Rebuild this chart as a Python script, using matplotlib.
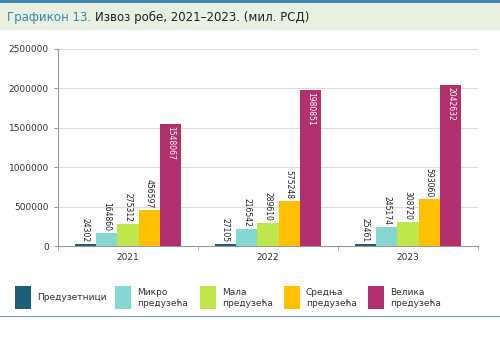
import numpy as np
import matplotlib
matplotlib.use("Agg")
import matplotlib.pyplot as plt
from matplotlib.patches import Rectangle

years = ["2021", "2022", "2023"]
series = ["Предузетници", "Микро\nпредузећа", "Мала\nпредузећа", "Средња\nпредузећа", "Велика\nпредузећа"]
colors = ["#1d5f7b", "#86d7d4", "#bfe64b", "#ffc000", "#b3306f"]
preduzetnici = [24302, 27105, 25461]
mikro = [164860, 216542, 245174]
mala = [275312, 289610, 308720]
srednja = [456597, 575248, 593060]
velika = [1548067, 1980851, 2042632]
values = [preduzetnici, mikro, mala, srednja, velika]

W, H = 500, 342
fig = plt.figure(figsize=(W / 100, H / 100), dpi=100)

# header band
fig.patches.append(Rectangle((0, 1 - 30 / H), 1, 27 / H, transform=fig.transFigure,
                             facecolor="#e9f0e1", edgecolor="none", zorder=0))
fig.patches.append(Rectangle((0, 1 - 2.5 / H), 1, 2.5 / H, transform=fig.transFigure,
                             facecolor="#3d86b0", edgecolor="none", zorder=0))
fig.patches.append(Rectangle((0, 1 - 317 / H), 1, 1.2 / H, transform=fig.transFigure,
                             facecolor="#6c9cc6", edgecolor="none", zorder=0))
t1 = fig.text(7 / W, 1 - 17 / H, "Графикон 13.", color="#3a86ad", fontsize=8.5,
              va="center", ha="left")
fig.canvas.draw()
bb = t1.get_window_extent()
fig.text(bb.x1 / W + 0.008, 1 - 17 / H, "Извоз робе, 2021–2023. (мил. РСД)",
         color="#222222", fontsize=8.5, va="center", ha="left")

ax = fig.add_axes([58 / W, 1 - 246 / H, 420 / W, 197 / H])
x = np.arange(len(years))
bw = 0.152
for i, (vals, c) in enumerate(zip(values, colors)):
    pos = x + (i - 2) * bw
    ax.bar(pos, vals, width=bw, color=c, zorder=3)
    for p, v in zip(pos, vals):
        if i == 4:
            ax.text(p, v - 25000, f"{v}", rotation=270, ha="center", va="top",
                    fontsize=5.5, color="white", zorder=4)
        else:
            ax.text(p, v + 25000, f"{v}", rotation=270, ha="center", va="bottom",
                    fontsize=5.5, color="#222222", zorder=4)

ax.set_xlim(-0.5, 2.5)
ax.set_ylim(0, 2500000)
ax.set_yticks(np.arange(0, 2500001, 500000))
ax.set_yticklabels([f"{int(v)}" for v in np.arange(0, 2500001, 500000)])
ax.set_xticks(x)
ax.set_xticklabels(years)
ax.set_xticks([-0.5, 0.5, 1.5, 2.5], minor=True)
ax.tick_params(axis="x", which="major", length=0, labelsize=6.5, pad=5, colors="#333333")
ax.tick_params(axis="x", which="minor", length=3, color="#999999")
ax.tick_params(axis="y", length=3, color="#999999", labelsize=6.5, colors="#333333")
ax.tick_params(axis="y", colors="#999999", labelcolor="#333333")
ax.grid(axis="y", color="#dddddd", lw=0.8, zorder=0)
for s in ["top", "right"]:
    ax.spines[s].set_visible(False)
ax.spines["left"].set_color("#999999")
ax.spines["bottom"].set_color("#999999")

# legend
px = [15, 115, 200, 284, 368]
for xx, lab, c in zip(px, series, colors):
    fig.patches.append(Rectangle((xx / W, 1 - 309 / H), 16 / W, 23 / H,
                                 transform=fig.transFigure, facecolor=c, edgecolor="none"))
    fig.text((xx + 22) / W, 1 - 298 / H, lab, fontsize=6.5, color="#333333",
             va="center", ha="left", linespacing=1.3)

fig.savefig("out.png", dpi=100)
